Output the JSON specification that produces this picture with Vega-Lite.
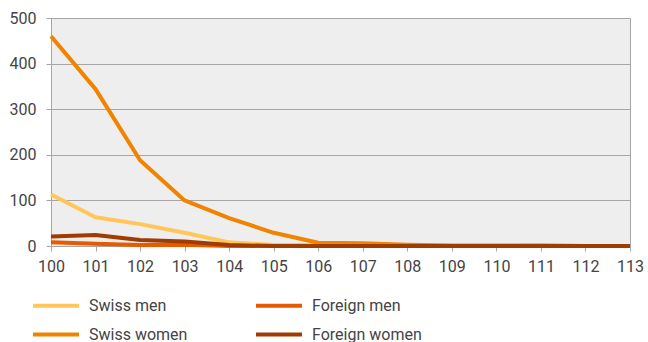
{
  "$schema": "https://vega.github.io/schema/vega-lite/v6.json",
  "width": 579,
  "height": 228,
  "autosize": "none",
  "padding": {"left": 51, "top": 18, "right": 18, "bottom": 96},
  "background": "white",
  "config": {
    "font": "Roboto",
    "view": {"fill": "#eeeeee", "stroke": "#a6a6a6", "strokeWidth": 1},
    "axis": {"labelFont": "Roboto", "labelFontSize": 16, "labelColor": "#444444", "domainColor": "#a6a6a6", "tickColor": "#a6a6a6", "gridColor": "#a6a6a6", "title": null}
  },
  "data": {
    "values": [
      {"age": 100, "group": "Swiss men", "n": 113},
      {"age": 101, "group": "Swiss men", "n": 63},
      {"age": 102, "group": "Swiss men", "n": 48},
      {"age": 103, "group": "Swiss men", "n": 29},
      {"age": 104, "group": "Swiss men", "n": 8},
      {"age": 105, "group": "Swiss men", "n": 2},
      {"age": 106, "group": "Swiss men", "n": 2},
      {"age": 107, "group": "Swiss men", "n": 1},
      {"age": 108, "group": "Swiss men", "n": 1},
      {"age": 109, "group": "Swiss men", "n": 0},
      {"age": 110, "group": "Swiss men", "n": 0},
      {"age": 111, "group": "Swiss men", "n": 1},
      {"age": 112, "group": "Swiss men", "n": 0},
      {"age": 113, "group": "Swiss men", "n": 0},
      {"age": 100, "group": "Foreign men", "n": 8},
      {"age": 101, "group": "Foreign men", "n": 5},
      {"age": 102, "group": "Foreign men", "n": 2},
      {"age": 103, "group": "Foreign men", "n": 3},
      {"age": 104, "group": "Foreign men", "n": 0},
      {"age": 105, "group": "Foreign men", "n": 0},
      {"age": 106, "group": "Foreign men", "n": 0},
      {"age": 107, "group": "Foreign men", "n": 0},
      {"age": 108, "group": "Foreign men", "n": 0},
      {"age": 109, "group": "Foreign men", "n": 0},
      {"age": 110, "group": "Foreign men", "n": 0},
      {"age": 111, "group": "Foreign men", "n": 0},
      {"age": 112, "group": "Foreign men", "n": 0},
      {"age": 113, "group": "Foreign men", "n": 0},
      {"age": 100, "group": "Swiss women", "n": 460},
      {"age": 101, "group": "Swiss women", "n": 344},
      {"age": 102, "group": "Swiss women", "n": 188},
      {"age": 103, "group": "Swiss women", "n": 100},
      {"age": 104, "group": "Swiss women", "n": 61},
      {"age": 105, "group": "Swiss women", "n": 29},
      {"age": 106, "group": "Swiss women", "n": 7},
      {"age": 107, "group": "Swiss women", "n": 6},
      {"age": 108, "group": "Swiss women", "n": 3},
      {"age": 109, "group": "Swiss women", "n": 1},
      {"age": 110, "group": "Swiss women", "n": 1},
      {"age": 111, "group": "Swiss women", "n": 1},
      {"age": 112, "group": "Swiss women", "n": 0},
      {"age": 113, "group": "Swiss women", "n": 0},
      {"age": 100, "group": "Foreign women", "n": 21},
      {"age": 101, "group": "Foreign women", "n": 24},
      {"age": 102, "group": "Foreign women", "n": 13},
      {"age": 103, "group": "Foreign women", "n": 10},
      {"age": 104, "group": "Foreign women", "n": 2},
      {"age": 105, "group": "Foreign women", "n": 0},
      {"age": 106, "group": "Foreign women", "n": 0},
      {"age": 107, "group": "Foreign women", "n": 0},
      {"age": 108, "group": "Foreign women", "n": 0},
      {"age": 109, "group": "Foreign women", "n": 0},
      {"age": 110, "group": "Foreign women", "n": 0},
      {"age": 111, "group": "Foreign women", "n": 0},
      {"age": 112, "group": "Foreign women", "n": 0},
      {"age": 113, "group": "Foreign women", "n": 0}
    ]
  },
  "mark": {"type": "line", "strokeWidth": 4, "strokeJoin": "round"},
  "encoding": {
    "x": {
      "field": "age", "type": "quantitative",
      "scale": {"domain": [100, 113], "nice": false, "zero": false},
      "axis": {"values": [100,101,102,103,104,105,106,107,108,109,110,111,112,113], "grid": false, "tickSize": 5, "labelPadding": 7, "format": "d", "labelFlush": false, "labelOverlap": false, "labelBound": false}
    },
    "y": {
      "field": "n", "type": "quantitative",
      "scale": {"domain": [0, 500], "nice": false},
      "axis": {"values": [0,100,200,300,400,500], "grid": true, "tickSize": 5, "labelPadding": 10, "labelFlush": false}
    },
    "color": {
      "field": "group", "type": "nominal",
      "scale": {
        "domain": ["Swiss men", "Foreign men", "Swiss women", "Foreign women"],
        "range": ["#ffc65a", "#e85a00", "#f08400", "#a03c00"]
      },
      "legend": {
        "title": null, "orient": "none", "legendX": -8.5, "legendY": 274,
        "columns": 2, "direction": "horizontal",
        "symbolType": "M-2,0H2", "symbolSize": 529, "symbolStrokeWidth": 4,
        "labelFont": "Roboto", "labelFontSize": 16, "labelColor": "#444444",
        "labelOffset": 19.5, "columnPadding": 60, "rowPadding": 7
      }
    },
    "order": {"field": "group"}
  }
}
